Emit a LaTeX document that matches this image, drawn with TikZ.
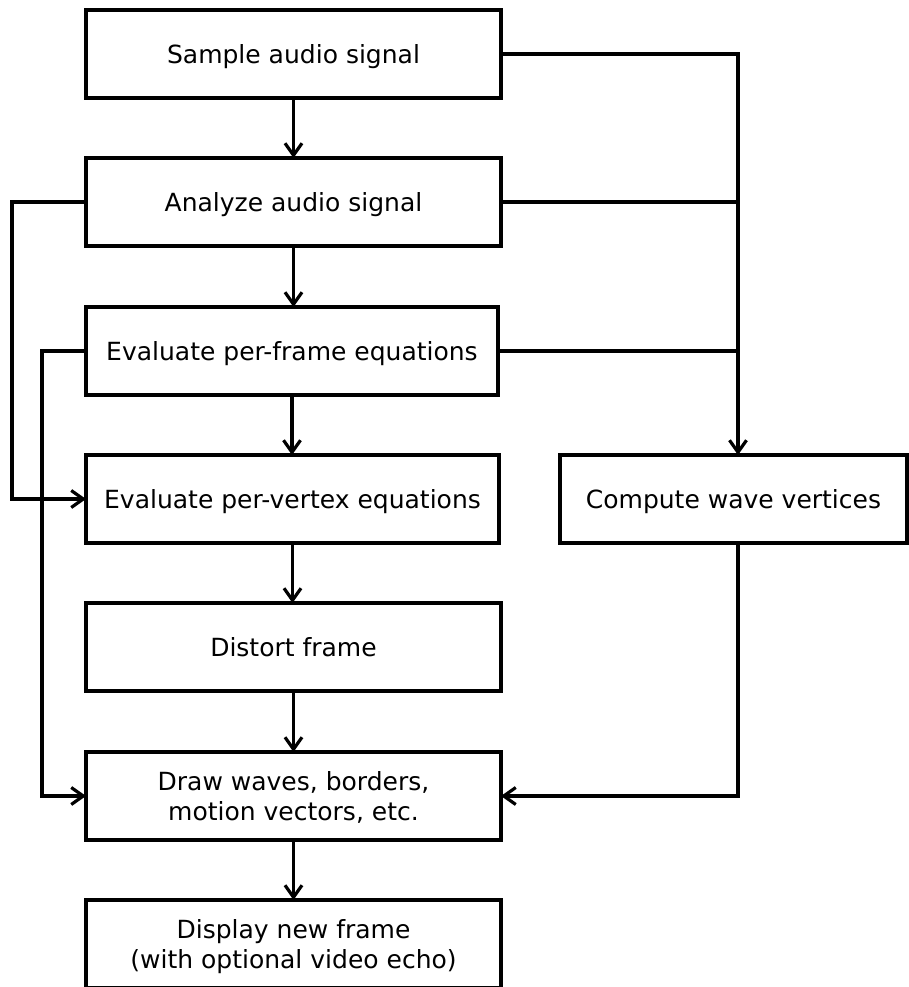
\documentclass[tikz,border=0pt]{standalone}
\usepackage{fontspec}
\setmainfont{DejaVu Sans}
\usetikzlibrary{arrows.meta}
\begin{document}
\begin{tikzpicture}[x=1pt,y=-1pt,
  stage/.style={draw, line width=3.2pt, minimum height=88pt, align=center,
    inner sep=0pt, outer sep=0pt, text depth=0pt,
    font=\fontsize{25pt}{29.5pt}\selectfont},
  flow/.style={line width=3.2pt, -{Straight Barb[length=12pt,width=17pt,line width=3.2pt]}},
  wire/.style={line width=3.2pt}]
\useasboundingbox (0,0) rectangle (908,987);

% main chain
\node[stage, minimum width=415pt] (B1) at (293.5,54)  {Sample audio signal};
\node[stage, minimum width=415pt] (B2) at (293.5,202) {Analyze audio signal};
\node[stage, minimum width=412pt] (B3) at (292,351)   {Evaluate per-frame equations};
\node[stage, minimum width=413pt] (B4) at (292.5,499) {Evaluate per-vertex equations};
\node[stage, minimum width=415pt] (B5) at (293.5,647) {Distort frame};
\node[stage, minimum width=415pt] (B6) at (293.5,796) {Draw waves, borders,\\motion vectors, etc.};
\node[stage, minimum width=415pt] (B7) at (293.5,944) {Display new frame\\(with optional video echo)};
% side branch
\node[stage, minimum width=347pt] (B8) at (733.5,499) {Compute wave vertices};

% guide coordinates for the routed lines
\coordinate (R)  at (738,54);
\coordinate (L1) at (12,203);
\coordinate (L2) at (42,351);

% vertical flow
\draw[flow] (B1.south) -- (B1.south |- B2.north);
\draw[flow] (B2.south) -- (B2.south |- B3.north);
\draw[flow] (B3.south) -- (B3.south |- B4.north);
\draw[flow] (B4.south) -- (B4.south |- B5.north);
\draw[flow] (B5.south) -- (B5.south |- B6.north);
\draw[flow] (B6.south) -- (B6.south |- B7.north);

% right-hand collector
\draw[flow] (B1.east) -- (R) -- (R |- B8.north);
\draw[wire] (B2.east) -- (B2.east -| R);
\draw[wire] (B3.east) -- (B3.east -| R);
\draw[flow] (R |- B8.south) -- (R |- B6.east) -- (B6.east);

% left-hand feedback lines
\draw[flow] (B2.west) -- (B2.west -| L1) |- (B4.west);
\draw[flow] (B3.west) -- (B3.west -| L2) |- (B6.west);
\end{tikzpicture}
\end{document}
